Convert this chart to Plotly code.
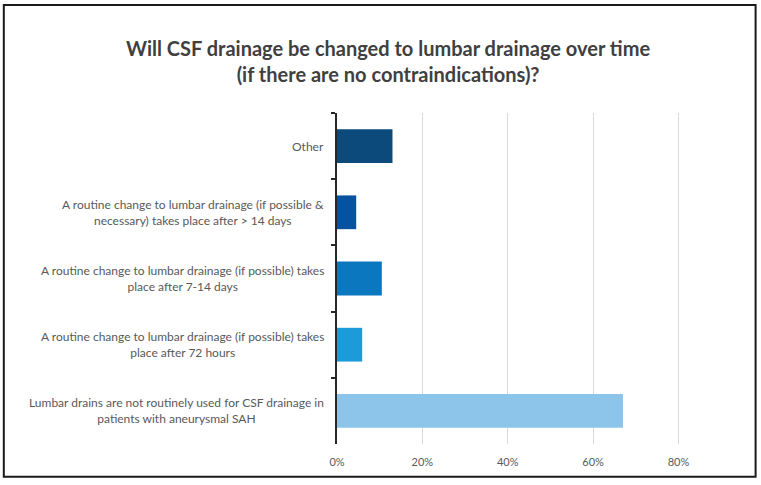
import plotly.graph_objects as go

# answers, listed top to bottom as in the chart
categories = [
    "Other",
    "A routine change to lumbar drainage (if possible &<br>necessary) takes place after > 14 days",
    "A routine change to lumbar drainage (if possible) takes<br>place after 7-14 days",
    "A routine change to lumbar drainage (if possible) takes<br>place after 72 hours",
    "Lumbar drains are not routinely used for CSF drainage in<br>patients with aneurysmal SAH",
]
shares = [0.13, 0.045, 0.105, 0.059, 0.67]
bar_colors = ["#0b4a7a", "#0552a0", "#0a77bf", "#1c9bd8", "#8dc4ea"]
tick_values = [0, 0.2, 0.4, 0.6, 0.8]
tick_labels = ["0%", "20%", "40%", "60%", "80%"]

FONT = "Lato"
TEXT_GREY = "#595959"

fig = go.Figure()
fig.add_trace(
    go.Bar(
        x=shares,
        y=categories,
        orientation="h",
        marker={"color": bar_colors, "line": {"width": 0}},
        width=0.51,
        hoverinfo="x+y",
    )
)

# category labels as annotations so the two lines are centred on each other
for cat in categories:
    fig.add_annotation(
        x=0,
        y=cat,
        xref="paper",
        yref="y",
        text=cat,
        showarrow=False,
        xanchor="right",
        yanchor="middle",
        align="center",
        xshift=-11,
        font={"family": FONT, "size": 12, "color": TEXT_GREY},
    )

# outer chart frame
fig.add_shape(
    type="rect",
    xref="paper",
    yref="paper",
    x0=-0.952,
    x1=1.196,
    y0=-0.099,
    y1=1.326,
    line={"color": "#1a1a1a", "width": 2},
    fillcolor="rgba(0,0,0,0)",
    layer="below",
)

fig.update_layout(
    width=761,
    height=485,
    paper_bgcolor="white",
    plot_bgcolor="white",
    showlegend=False,
    margin={"l": 337, "r": 74, "t": 113, "b": 41},
    font={"family": FONT, "color": TEXT_GREY},
    title={
        "text": "<b>Will CSF drainage be changed to lumbar drainage over time<br>(if there are no contraindications)?</b>",
        "x": 0.51,
        "xanchor": "center",
        "y": 0.884,
        "yanchor": "middle",
        "xref": "container",
        "font": {"family": FONT, "size": 20, "color": "#404040"},
    },
    xaxis={
        "range": [0, 0.82],
        "tickvals": tick_values,
        "ticktext": tick_labels,
        "showgrid": True,
        "gridcolor": "#d9d9d9",
        "gridwidth": 1,
        "zeroline": False,
        "showline": False,
        "ticks": "",
        "ticklabelstandoff": 10,
        "tickfont": {"family": FONT, "size": 11, "color": TEXT_GREY},
        "fixedrange": True,
    },
    yaxis={
        "autorange": "reversed",
        "showticklabels": False,
        "showline": True,
        "linecolor": "#262626",
        "linewidth": 2,
        "ticks": "outside",
        "ticklen": 4,
        "tickwidth": 2,
        "tickcolor": "#262626",
        "tickson": "boundaries",
        "showgrid": False,
        "fixedrange": True,
    },
)

fig.write_html(
    "out.html",
    config={"displayModeBar": False},
    post_script="document.body.style.margin = '0';",
)
